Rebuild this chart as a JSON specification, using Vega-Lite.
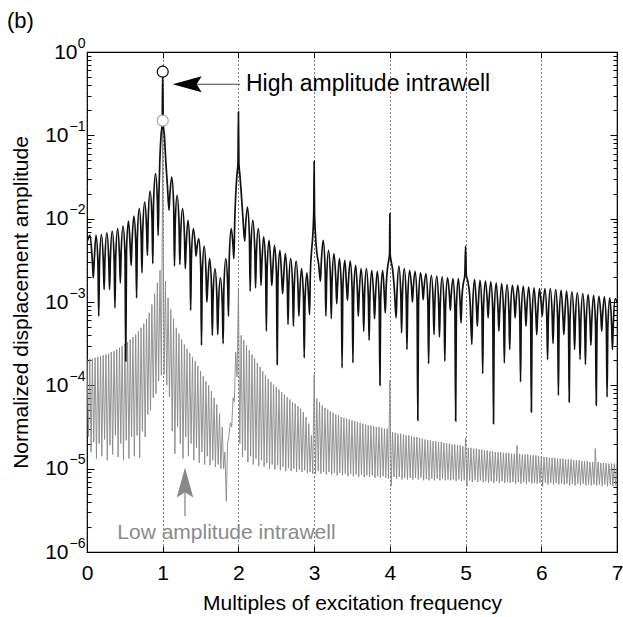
{
"$schema":"https://vega.github.io/schema/vega-lite/v6.json",
"width":530,"height":500,
"autosize":"none",
"padding":{"left":87,"top":52,"right":6,"bottom":65},
"background":"white",
"config":{"view":{"stroke":"black","strokeWidth":1.2},"font":"Liberation Sans","axis":{"labelFont":"Liberation Sans","titleFont":"Liberation Sans","labelColor":"black","titleColor":"black","tickColor":"black","titleFontWeight":"normal","domain":false,"grid":false}},
"title":{"text":"(b)","anchor":"start","frame":"group","dx":-80,"dy":13,"offset":16,"fontSize":22,"fontWeight":"normal","color":"black","font":"Liberation Sans"},
"datasets":{
"black":[
{"x":0,"y":5.25e-3},{"x":0.04,"y":6.31e-3},{"x":0.073,"y":2.82e-3},{"x":0.083,"y":1.95e-3},{"x":0.093,"y":2.82e-3},{"x":0.119,"y":6.31e-3},{"x":0.145,"y":2.82e-3},{"x":0.155,"y":6.76e-4},{"x":0.165,"y":2.88e-3},{"x":0.19,"y":6.46e-3},{"x":0.216,"y":2.88e-3},{"x":0.226,"y":1.41e-3},{"x":0.236,"y":3.02e-3},{"x":0.262,"y":6.76e-3},{"x":0.288,"y":3.02e-3},{"x":0.298,"y":1.41e-3},{"x":0.308,"y":3.16e-3},{"x":0.333,"y":7.08e-3},{"x":0.359,"y":3.16e-3},{"x":0.369,"y":8.51e-4},{"x":0.379,"y":3.39e-3},{"x":0.405,"y":7.59e-3},{"x":0.43,"y":3.39e-3},{"x":0.44,"y":1.70e-3},{"x":0.45,"y":3.63e-3},{"x":0.476,"y":8.13e-3},{"x":0.502,"y":3.63e-3},{"x":0.512,"y":1.95e-4},{"x":0.522,"y":4.17e-3},{"x":0.548,"y":9.33e-3},{"x":0.573,"y":4.17e-3},{"x":0.583,"y":2.75e-3},{"x":0.593,"y":4.79e-3},{"x":0.619,"y":1.07e-2},{"x":0.645,"y":4.79e-3},{"x":0.655,"y":1.12e-3},{"x":0.665,"y":5.89e-3},{"x":0.69,"y":1.32e-2},{"x":0.716,"y":5.89e-3},{"x":0.726,"y":2.24e-3},{"x":0.736,"y":7.08e-3},{"x":0.762,"y":1.58e-2},{"x":0.788,"y":7.08e-3},{"x":0.798,"y":3.63e-3},{"x":0.808,"y":9.55e-3},{"x":0.833,"y":2.14e-2},{"x":0.859,"y":9.55e-3},{"x":0.869,"y":2.88e-3},{"x":0.879,"y":1.55e-2},{"x":0.905,"y":3.47e-2},{"x":0.93,"y":1.55e-2},{"x":0.94,"y":6.31e-3},{"x":0.95,"y":2.0e-2},{"x":0.962,"y":5.01e-2},{"x":0.978,"y":0.1},{"x":0.993,"y":0.138},{"x":1.0,"y":0.58},{"x":1.007,"y":0.138},{"x":1.022,"y":0.1},{"x":1.04,"y":5.01e-2},{"x":1.062,"y":2.51e-2},{"x":1.083,"y":1.26e-2},
{"x":1.093,"y":1.82e-2},{"x":1.119,"y":3.16e-2},{"x":1.145,"y":1.41e-2},{"x":1.155,"y":2.69e-3},{"x":1.165,"y":8.51e-3},{"x":1.19,"y":1.91e-2},{"x":1.216,"y":8.51e-3},{"x":1.226,"y":2.82e-3},{"x":1.236,"y":5.89e-3},{"x":1.262,"y":1.32e-2},{"x":1.288,"y":5.89e-3},{"x":1.298,"y":2.51e-3},{"x":1.308,"y":4.27e-3},{"x":1.333,"y":9.55e-3},{"x":1.359,"y":4.27e-3},{"x":1.369,"y":7.94e-4},{"x":1.379,"y":3.39e-3},{"x":1.405,"y":7.59e-3},{"x":1.43,"y":4.79e-3},{"x":1.44,"y":3.55e-3},{"x":1.45,"y":4.27e-3},{"x":1.476,"y":5.75e-3},{"x":1.502,"y":2.57e-3},{"x":1.512,"y":3.02e-4},{"x":1.522,"y":2.09e-3},{"x":1.548,"y":4.68e-3},{"x":1.573,"y":2.09e-3},{"x":1.583,"y":1.0e-3},{"x":1.593,"y":1.48e-3},{"x":1.619,"y":3.31e-3},{"x":1.645,"y":1.48e-3},{"x":1.655,"y":3.98e-4},{"x":1.665,"y":1.12e-3},{"x":1.69,"y":2.51e-3},{"x":1.716,"y":1.12e-3},{"x":1.726,"y":4.07e-4},{"x":1.736,"y":8.71e-4},{"x":1.762,"y":1.95e-3},{"x":1.788,"y":8.71e-4},{"x":1.798,"y":3.16e-4},{"x":1.808,"y":1.48e-3},{"x":1.833,"y":3.31e-3},{"x":1.859,"y":1.48e-3},{"x":1.869,"y":6.76e-4},{"x":1.879,"y":3.39e-3},{"x":1.905,"y":7.59e-3},{"x":1.93,"y":4.57e-3},{"x":1.94,"y":3.31e-3},{"x":1.952,"y":1.0e-2},{"x":1.965,"y":2.0e-2},{"x":1.98,"y":3.31e-2},{"x":1.994,"y":4.68e-2},{"x":2.0,"y":0.191},{"x":2.006,"y":4.68e-2},{"x":2.02,"y":3.31e-2},{"x":2.038,"y":2.0e-2},{"x":2.06,"y":1.0e-2},{"x":2.083,"y":5.37e-3},
{"x":2.093,"y":7.76e-3},{"x":2.119,"y":1.38e-2},{"x":2.145,"y":6.17e-3},{"x":2.155,"y":1.35e-3},{"x":2.165,"y":4.27e-3},{"x":2.19,"y":9.55e-3},{"x":2.216,"y":4.27e-3},{"x":2.226,"y":1.48e-3},{"x":2.236,"y":3.39e-3},{"x":2.262,"y":7.59e-3},{"x":2.288,"y":3.39e-3},{"x":2.298,"y":1.58e-3},{"x":2.308,"y":2.69e-3},{"x":2.333,"y":6.03e-3},{"x":2.359,"y":2.69e-3},{"x":2.369,"y":4.47e-4},{"x":2.379,"y":2.45e-3},{"x":2.405,"y":5.5e-3},{"x":2.43,"y":2.45e-3},{"x":2.44,"y":1.58e-3},{"x":2.45,"y":2.14e-3},{"x":2.476,"y":4.79e-3},{"x":2.502,"y":2.14e-3},{"x":2.512,"y":1.78e-4},{"x":2.522,"y":1.86e-3},{"x":2.548,"y":4.17e-3},{"x":2.573,"y":1.86e-3},{"x":2.583,"y":1.26e-3},{"x":2.593,"y":1.70e-3},{"x":2.619,"y":3.8e-3},{"x":2.645,"y":1.70e-3},{"x":2.655,"y":5.37e-4},{"x":2.665,"y":1.48e-3},{"x":2.69,"y":3.31e-3},{"x":2.716,"y":1.48e-3},{"x":2.726,"y":5.13e-4},{"x":2.736,"y":1.38e-3},{"x":2.762,"y":3.09e-3},{"x":2.788,"y":1.38e-3},{"x":2.798,"y":6.76e-4},{"x":2.808,"y":1.12e-3},{"x":2.833,"y":2.51e-3},{"x":2.859,"y":1.12e-3},{"x":2.869,"y":2.14e-4},{"x":2.879,"y":1.0e-3},{"x":2.905,"y":2.24e-3},{"x":2.93,"y":1.0e-3},{"x":2.94,"y":7.08e-4},{"x":2.95,"y":2.24e-3},{"x":2.965,"y":3.98e-3},{"x":2.982,"y":6.31e-3},{"x":2.995,"y":1.26e-2},{"x":3.0,"y":4.9e-2},{"x":3.005,"y":1.26e-2},{"x":3.018,"y":6.31e-3},{"x":3.035,"y":3.98e-3},{"x":3.06,"y":2.82e-3},{"x":3.083,"y":1.78e-3},
{"x":3.093,"y":2.82e-3},{"x":3.119,"y":5.5e-3},{"x":3.145,"y":2.45e-3},{"x":3.155,"y":6.76e-4},{"x":3.165,"y":1.86e-3},{"x":3.19,"y":4.17e-3},{"x":3.216,"y":1.86e-3},{"x":3.226,"y":6.31e-4},{"x":3.236,"y":1.70e-3},{"x":3.262,"y":3.8e-3},{"x":3.288,"y":1.70e-3},{"x":3.298,"y":9.55e-4},{"x":3.308,"y":1.48e-3},{"x":3.333,"y":3.31e-3},{"x":3.359,"y":1.48e-3},{"x":3.369,"y":1.62e-4},{"x":3.379,"y":1.41e-3},{"x":3.405,"y":3.16e-3},{"x":3.43,"y":1.41e-3},{"x":3.44,"y":1.05e-3},{"x":3.45,"y":1.58e-3},{"x":3.476,"y":3.09e-3},{"x":3.502,"y":1.38e-3},{"x":3.512,"y":1.86e-4},{"x":3.522,"y":1.23e-3},{"x":3.548,"y":2.75e-3},{"x":3.573,"y":1.23e-3},{"x":3.583,"y":6.76e-4},{"x":3.593,"y":1.12e-3},{"x":3.619,"y":2.51e-3},{"x":3.645,"y":1.12e-3},{"x":3.655,"y":4.47e-4},{"x":3.665,"y":1.12e-3},{"x":3.69,"y":2.51e-3},{"x":3.716,"y":1.12e-3},{"x":3.726,"y":3.47e-4},{"x":3.736,"y":1.07e-3},{"x":3.762,"y":2.4e-3},{"x":3.788,"y":1.07e-3},{"x":3.798,"y":6.31e-4},{"x":3.808,"y":1.05e-3},{"x":3.833,"y":2.34e-3},{"x":3.859,"y":1.05e-3},{"x":3.869,"y":1.0e-4},{"x":3.879,"y":1.07e-3},{"x":3.905,"y":2.4e-3},{"x":3.93,"y":1.07e-3},{"x":3.94,"y":7.41e-4},{"x":3.952,"y":1.58e-3},{"x":3.968,"y":2.51e-3},{"x":3.985,"y":3.16e-3},{"x":3.996,"y":3.8e-3},{"x":4.0,"y":1.15e-2},{"x":4.004,"y":3.8e-3},{"x":4.015,"y":3.16e-3},{"x":4.035,"y":2.51e-3},{"x":4.06,"y":1.41e-3},{"x":4.083,"y":6.46e-4},
{"x":4.093,"y":1.2e-3},{"x":4.119,"y":2.69e-3},{"x":4.145,"y":1.2e-3},{"x":4.155,"y":4.27e-4},{"x":4.165,"y":1.12e-3},{"x":4.19,"y":2.51e-3},{"x":4.216,"y":1.12e-3},{"x":4.226,"y":2.69e-4},{"x":4.236,"y":1.07e-3},{"x":4.262,"y":2.4e-3},{"x":4.288,"y":1.41e-3},{"x":4.298,"y":1.0e-3},{"x":4.308,"y":1.41e-3},{"x":4.333,"y":2.34e-3},{"x":4.359,"y":1.05e-3},{"x":4.369,"y":3.8e-5},{"x":4.379,"y":1.0e-3},{"x":4.405,"y":2.24e-3},{"x":4.43,"y":1.45e-3},{"x":4.44,"y":1.07e-3},{"x":4.45,"y":1.41e-3},{"x":4.476,"y":2.19e-3},{"x":4.502,"y":9.77e-4},{"x":4.512,"y":1.82e-4},{"x":4.522,"y":9.33e-4},{"x":4.548,"y":2.09e-3},{"x":4.573,"y":9.33e-4},{"x":4.583,"y":4.07e-4},{"x":4.593,"y":9.12e-4},{"x":4.619,"y":2.04e-3},{"x":4.645,"y":9.12e-4},{"x":4.655,"y":3.8e-4},{"x":4.665,"y":8.91e-4},{"x":4.69,"y":2.0e-3},{"x":4.716,"y":8.91e-4},{"x":4.726,"y":1.95e-4},{"x":4.736,"y":8.71e-4},{"x":4.762,"y":1.95e-3},{"x":4.788,"y":1.15e-3},{"x":4.798,"y":7.94e-4},{"x":4.808,"y":1.12e-3},{"x":4.833,"y":1.91e-3},{"x":4.859,"y":8.51e-4},{"x":4.869,"y":3.72e-5},{"x":4.879,"y":8.51e-4},{"x":4.905,"y":1.91e-3},{"x":4.93,"y":8.91e-4},{"x":4.94,"y":5.62e-4},{"x":4.952,"y":1.12e-3},{"x":4.97,"y":1.66e-3},{"x":4.99,"y":2.09e-3},{"x":5.0,"y":4.68e-3},{"x":5.01,"y":2.09e-3},{"x":5.03,"y":1.78e-3},{"x":5.06,"y":1.0e-3},{"x":5.083,"y":3.09e-4},
{"x":5.093,"y":8.32e-4},{"x":5.119,"y":1.86e-3},{"x":5.145,"y":8.32e-4},{"x":5.155,"y":5.13e-4},{"x":5.165,"y":8.13e-4},{"x":5.19,"y":1.82e-3},{"x":5.216,"y":8.13e-4},{"x":5.226,"y":1.38e-4},{"x":5.236,"y":7.94e-4},{"x":5.262,"y":1.78e-3},{"x":5.288,"y":9.77e-4},{"x":5.298,"y":6.46e-4},{"x":5.308,"y":9.55e-4},{"x":5.333,"y":1.74e-3},{"x":5.359,"y":7.76e-4},{"x":5.369,"y":3.47e-5},{"x":5.379,"y":7.59e-4},{"x":5.405,"y":1.70e-3},{"x":5.43,"y":7.59e-4},{"x":5.44,"y":4.47e-4},{"x":5.45,"y":7.41e-4},{"x":5.476,"y":1.66e-3},{"x":5.502,"y":7.41e-4},{"x":5.512,"y":1.86e-4},{"x":5.522,"y":7.24e-4},{"x":5.548,"y":1.62e-3},{"x":5.573,"y":7.24e-4},{"x":5.583,"y":2.69e-4},{"x":5.593,"y":7.08e-4},{"x":5.619,"y":1.58e-3},{"x":5.645,"y":9.33e-4},{"x":5.655,"y":6.46e-4},{"x":5.665,"y":9.33e-4},{"x":5.69,"y":1.58e-3},{"x":5.716,"y":7.08e-4},{"x":5.726,"y":1.1e-4},{"x":5.736,"y":6.92e-4},{"x":5.762,"y":1.55e-3},{"x":5.788,"y":7.94e-4},{"x":5.798,"y":5.13e-4},{"x":5.808,"y":7.94e-4},{"x":5.833,"y":1.51e-3},{"x":5.859,"y":6.76e-4},{"x":5.869,"y":4.79e-5},{"x":5.879,"y":6.61e-4},{"x":5.905,"y":1.48e-3},{"x":5.93,"y":6.61e-4},{"x":5.94,"y":4.07e-4},{"x":5.95,"y":6.46e-4},{"x":5.976,"y":1.45e-3},{"x":6.002,"y":8.91e-4},{"x":6.012,"y":6.76e-4},{"x":6.022,"y":8.91e-4},{"x":6.048,"y":1.45e-3},{"x":6.073,"y":6.46e-4},{"x":6.083,"y":2.04e-4},
{"x":6.093,"y":6.46e-4},{"x":6.119,"y":1.45e-3},{"x":6.145,"y":6.46e-4},{"x":6.155,"y":3.16e-4},{"x":6.165,"y":6.31e-4},{"x":6.19,"y":1.41e-3},{"x":6.216,"y":6.31e-4},{"x":6.226,"y":7.59e-5},{"x":6.236,"y":6.17e-4},{"x":6.262,"y":1.38e-3},{"x":6.288,"y":6.17e-4},{"x":6.298,"y":4.07e-4},{"x":6.308,"y":6.03e-4},{"x":6.333,"y":1.35e-3},{"x":6.359,"y":6.03e-4},{"x":6.369,"y":6.31e-5},{"x":6.379,"y":5.89e-4},{"x":6.405,"y":1.32e-3},{"x":6.43,"y":5.89e-4},{"x":6.44,"y":2.69e-4},{"x":6.45,"y":5.75e-4},{"x":6.476,"y":1.29e-3},{"x":6.502,"y":5.75e-4},{"x":6.512,"y":2.04e-4},{"x":6.522,"y":5.62e-4},{"x":6.548,"y":1.26e-3},{"x":6.573,"y":5.62e-4},{"x":6.583,"y":1.78e-4},{"x":6.593,"y":5.5e-4},{"x":6.619,"y":1.23e-3},{"x":6.645,"y":5.5e-4},{"x":6.655,"y":3.02e-4},{"x":6.665,"y":5.37e-4},{"x":6.69,"y":1.2e-3},{"x":6.716,"y":5.37e-4},{"x":6.726,"y":5.75e-5},{"x":6.736,"y":5.25e-4},{"x":6.762,"y":1.17e-3},{"x":6.788,"y":6.61e-4},{"x":6.798,"y":4.47e-4},{"x":6.808,"y":6.46e-4},{"x":6.833,"y":1.15e-3},{"x":6.859,"y":5.13e-4},{"x":6.869,"y":7.24e-5},{"x":6.879,"y":5.01e-4},{"x":6.905,"y":1.12e-3},{"x":6.93,"y":5.01e-4},{"x":6.94,"y":2.69e-4},{"x":6.95,"y":5.01e-4},{"x":6.976,"y":1.1e-3},{"x":7.0,"y":1.0e-3}
],
"gray":[
{"x":0,"y":2.04e-4},{"x":0.018,"y":2.4e-5},{"x":0.036,"y":2.09e-4},{"x":0.054,"y":1.58e-5},{"x":0.071,"y":2.09e-4},{"x":0.089,"y":2.09e-5},{"x":0.107,"y":2.14e-4},{"x":0.125,"y":1.32e-5},{"x":0.143,"y":2.19e-4},{"x":0.161,"y":2.0e-5},{"x":0.179,"y":2.24e-4},{"x":0.196,"y":1.41e-5},{"x":0.214,"y":2.29e-4},{"x":0.232,"y":2.24e-5},{"x":0.25,"y":2.34e-4},{"x":0.268,"y":1.26e-5},{"x":0.286,"y":2.4e-4},{"x":0.304,"y":1.91e-5},{"x":0.321,"y":2.51e-4},{"x":0.339,"y":1.48e-5},{"x":0.357,"y":2.57e-4},{"x":0.375,"y":2.51e-5},{"x":0.393,"y":2.69e-4},{"x":0.411,"y":1.38e-5},{"x":0.429,"y":2.82e-4},{"x":0.446,"y":2.0e-5},{"x":0.464,"y":2.95e-4},{"x":0.482,"y":1.26e-5},{"x":0.5,"y":3.16e-4},{"x":0.518,"y":2.19e-5},{"x":0.536,"y":3.31e-4},{"x":0.554,"y":1.32e-5},{"x":0.571,"y":3.55e-4},{"x":0.589,"y":2.4e-5},{"x":0.607,"y":3.8e-4},{"x":0.625,"y":1.41e-5},{"x":0.643,"y":4.07e-4},{"x":0.661,"y":2.51e-5},{"x":0.679,"y":4.47e-4},{"x":0.696,"y":1.35e-5},{"x":0.714,"y":4.9e-4},{"x":0.732,"y":2.82e-5},{"x":0.75,"y":5.5e-4},{"x":0.768,"y":2.4e-5},{"x":0.786,"y":6.31e-4},{"x":0.804,"y":4.47e-5},{"x":0.821,"y":7.41e-4},{"x":0.839,"y":5.01e-5},{"x":0.857,"y":9.33e-4},{"x":0.875,"y":7.08e-5},{"x":0.893,"y":1.26e-3},{"x":0.911,"y":7.94e-5},{"x":0.929,"y":1.7e-3},{"x":0.946,"y":1.12e-4},{"x":0.964,"y":2.4e-3},{"x":0.982,"y":1.32e-4},{"x":0.995,"y":1.0e-2},{"x":1.0,"y":0.15},{"x":1.005,"y":1.0e-2},{"x":1.018,"y":1.35e-4},
{"x":1.036,"y":1.78e-3},{"x":1.054,"y":1.0e-4},{"x":1.071,"y":1.12e-3},{"x":1.089,"y":7.24e-5},{"x":1.107,"y":8.13e-4},{"x":1.125,"y":2.82e-5},{"x":1.143,"y":6.31e-4},{"x":1.161,"y":1.51e-5},{"x":1.179,"y":4.9e-4},{"x":1.196,"y":3.16e-5},{"x":1.214,"y":4.17e-4},{"x":1.232,"y":2.0e-5},{"x":1.25,"y":3.55e-4},{"x":1.268,"y":1.32e-5},{"x":1.286,"y":3.09e-4},{"x":1.304,"y":2.4e-5},{"x":1.321,"y":2.75e-4},{"x":1.339,"y":1.41e-5},{"x":1.357,"y":2.45e-4},{"x":1.375,"y":2.0e-5},{"x":1.393,"y":2.19e-4},{"x":1.411,"y":1.26e-5},{"x":1.429,"y":1.95e-4},{"x":1.446,"y":1.78e-5},{"x":1.464,"y":1.7e-4},{"x":1.482,"y":1.17e-5},{"x":1.5,"y":1.48e-4},{"x":1.518,"y":1.58e-5},{"x":1.536,"y":1.29e-4},{"x":1.554,"y":1.12e-5},{"x":1.571,"y":1.12e-4},{"x":1.589,"y":1.41e-5},{"x":1.607,"y":1.0e-4},{"x":1.625,"y":1.1e-5},{"x":1.643,"y":8.51e-5},{"x":1.661,"y":1.26e-5},{"x":1.679,"y":7.08e-5},{"x":1.696,"y":1.05e-5},{"x":1.714,"y":5.89e-5},{"x":1.732,"y":1.12e-5},{"x":1.75,"y":4.57e-5},{"x":1.768,"y":1.0e-5},{"x":1.786,"y":3.16e-5},{"x":1.804,"y":1.0e-5},{"x":1.821,"y":1.58e-5},{"x":1.84,"y":4.07e-6},{"x":1.857,"y":2.0e-5},{"x":1.875,"y":2.51e-5},{"x":1.893,"y":3.55e-5},{"x":1.911,"y":3.16e-5},{"x":1.929,"y":7.08e-5},{"x":1.946,"y":6.31e-5},{"x":1.964,"y":2.51e-4},{"x":1.982,"y":1.26e-4},{"x":2.0,"y":1.48e-3},{"x":2.018,"y":2.0e-5},
{"x":2.036,"y":3.98e-4},{"x":2.054,"y":1.38e-5},{"x":2.071,"y":3.47e-4},{"x":2.089,"y":1.66e-5},{"x":2.107,"y":3.02e-4},{"x":2.125,"y":1.2e-5},{"x":2.143,"y":2.63e-4},{"x":2.161,"y":1.41e-5},{"x":2.179,"y":2.34e-4},{"x":2.196,"y":1.12e-5},{"x":2.214,"y":2.09e-4},{"x":2.232,"y":1.32e-5},{"x":2.25,"y":1.86e-4},{"x":2.268,"y":1.07e-5},{"x":2.286,"y":1.66e-4},{"x":2.304,"y":1.26e-5},{"x":2.321,"y":1.48e-4},{"x":2.339,"y":1.05e-5},{"x":2.357,"y":1.32e-4},{"x":2.375,"y":1.17e-5},{"x":2.393,"y":1.2e-4},{"x":2.411,"y":1.0e-5},{"x":2.429,"y":1.1e-4},{"x":2.446,"y":1.12e-5},{"x":2.464,"y":1.02e-4},{"x":2.482,"y":9.77e-6},{"x":2.5,"y":9.55e-5},{"x":2.518,"y":1.1e-5},{"x":2.536,"y":8.91e-5},{"x":2.554,"y":9.55e-6},{"x":2.571,"y":8.32e-5},{"x":2.589,"y":1.05e-5},{"x":2.607,"y":7.76e-5},{"x":2.625,"y":9.33e-6},{"x":2.643,"y":7.24e-5},{"x":2.661,"y":1.02e-5},{"x":2.679,"y":6.76e-5},{"x":2.696,"y":9.33e-6},{"x":2.714,"y":6.31e-5},{"x":2.732,"y":1.0e-5},{"x":2.75,"y":6.03e-5},{"x":2.768,"y":9.12e-6},{"x":2.786,"y":5.62e-5},{"x":2.804,"y":9.77e-6},{"x":2.821,"y":5.25e-5},{"x":2.839,"y":9.12e-6},{"x":2.857,"y":4.79e-5},{"x":2.875,"y":9.55e-6},{"x":2.893,"y":4.17e-5},{"x":2.911,"y":8.91e-6},{"x":2.929,"y":3.47e-5},{"x":2.946,"y":9.12e-6},{"x":2.964,"y":2.51e-5},{"x":2.982,"y":8.71e-6},{"x":3.0,"y":1.35e-4},{"x":3.018,"y":8.71e-6},
{"x":3.036,"y":6.92e-5},{"x":3.054,"y":9.33e-6},{"x":3.071,"y":6.31e-5},{"x":3.089,"y":8.71e-6},{"x":3.107,"y":5.75e-5},{"x":3.125,"y":9.12e-6},{"x":3.143,"y":5.37e-5},{"x":3.161,"y":8.51e-6},{"x":3.179,"y":5.13e-5},{"x":3.196,"y":9.12e-6},{"x":3.214,"y":4.9e-5},{"x":3.232,"y":8.51e-6},{"x":3.25,"y":4.68e-5},{"x":3.268,"y":8.91e-6},{"x":3.286,"y":4.47e-5},{"x":3.304,"y":8.32e-6},{"x":3.321,"y":4.37e-5},{"x":3.339,"y":8.91e-6},{"x":3.357,"y":4.17e-5},{"x":3.375,"y":8.32e-6},{"x":3.393,"y":4.07e-5},{"x":3.411,"y":8.71e-6},{"x":3.429,"y":3.98e-5},{"x":3.446,"y":8.13e-6},{"x":3.464,"y":3.89e-5},{"x":3.482,"y":8.71e-6},{"x":3.5,"y":3.8e-5},{"x":3.518,"y":8.13e-6},{"x":3.536,"y":3.72e-5},{"x":3.554,"y":8.51e-6},{"x":3.571,"y":3.63e-5},{"x":3.589,"y":7.94e-6},{"x":3.607,"y":3.55e-5},{"x":3.625,"y":8.51e-6},{"x":3.643,"y":3.47e-5},{"x":3.661,"y":7.94e-6},{"x":3.679,"y":3.39e-5},{"x":3.696,"y":8.32e-6},{"x":3.714,"y":3.31e-5},{"x":3.732,"y":7.94e-6},{"x":3.75,"y":3.31e-5},{"x":3.768,"y":8.32e-6},{"x":3.786,"y":3.24e-5},{"x":3.804,"y":7.76e-6},{"x":3.821,"y":3.16e-5},{"x":3.839,"y":8.13e-6},{"x":3.857,"y":3.16e-5},{"x":3.875,"y":7.76e-6},{"x":3.893,"y":3.09e-5},{"x":3.911,"y":8.13e-6},{"x":3.929,"y":3.02e-5},{"x":3.946,"y":7.76e-6},{"x":3.964,"y":3.02e-5},{"x":3.982,"y":7.59e-6},{"x":4.0,"y":1.15e-4},{"x":4.018,"y":6.17e-6},
{"x":4.036,"y":2.75e-5},{"x":4.054,"y":7.94e-6},{"x":4.071,"y":2.69e-5},{"x":4.089,"y":7.59e-6},{"x":4.107,"y":2.63e-5},{"x":4.125,"y":7.94e-6},{"x":4.143,"y":2.63e-5},{"x":4.161,"y":7.41e-6},{"x":4.179,"y":2.57e-5},{"x":4.196,"y":7.76e-6},{"x":4.214,"y":2.51e-5},{"x":4.232,"y":7.41e-6},{"x":4.25,"y":2.51e-5},{"x":4.268,"y":7.76e-6},{"x":4.286,"y":2.45e-5},{"x":4.304,"y":7.41e-6},{"x":4.321,"y":2.4e-5},{"x":4.339,"y":7.76e-6},{"x":4.357,"y":2.4e-5},{"x":4.375,"y":7.41e-6},{"x":4.393,"y":2.34e-5},{"x":4.411,"y":7.76e-6},{"x":4.429,"y":2.29e-5},{"x":4.446,"y":7.24e-6},{"x":4.464,"y":2.24e-5},{"x":4.482,"y":7.59e-6},{"x":4.5,"y":2.19e-5},{"x":4.518,"y":7.24e-6},{"x":4.536,"y":2.19e-5},{"x":4.554,"y":7.59e-6},{"x":4.571,"y":2.14e-5},{"x":4.589,"y":7.24e-6},{"x":4.607,"y":2.14e-5},{"x":4.625,"y":7.59e-6},{"x":4.643,"y":2.09e-5},{"x":4.661,"y":7.24e-6},{"x":4.679,"y":2.09e-5},{"x":4.696,"y":7.59e-6},{"x":4.714,"y":2.04e-5},{"x":4.732,"y":7.24e-6},{"x":4.75,"y":2.0e-5},{"x":4.768,"y":7.41e-6},{"x":4.786,"y":2.0e-5},{"x":4.804,"y":7.24e-6},{"x":4.821,"y":1.95e-5},{"x":4.839,"y":7.41e-6},{"x":4.857,"y":1.95e-5},{"x":4.875,"y":7.08e-6},{"x":4.893,"y":1.91e-5},{"x":4.911,"y":7.41e-6},{"x":4.929,"y":1.91e-5},{"x":4.946,"y":7.08e-6},{"x":4.964,"y":1.86e-5},{"x":4.982,"y":7.24e-6},{"x":5.0,"y":2.34e-5},{"x":5.018,"y":6.17e-6},
{"x":5.036,"y":1.78e-5},{"x":5.054,"y":7.24e-6},{"x":5.071,"y":1.78e-5},{"x":5.089,"y":6.92e-6},{"x":5.107,"y":1.74e-5},{"x":5.125,"y":7.24e-6},{"x":5.143,"y":1.74e-5},{"x":5.161,"y":6.92e-6},{"x":5.179,"y":1.7e-5},{"x":5.196,"y":7.24e-6},{"x":5.214,"y":1.7e-5},{"x":5.232,"y":6.92e-6},{"x":5.25,"y":1.66e-5},{"x":5.268,"y":7.08e-6},{"x":5.286,"y":1.66e-5},{"x":5.304,"y":6.76e-6},{"x":5.321,"y":1.62e-5},{"x":5.339,"y":7.08e-6},{"x":5.357,"y":1.62e-5},{"x":5.375,"y":6.76e-6},{"x":5.393,"y":1.58e-5},{"x":5.411,"y":7.08e-6},{"x":5.429,"y":1.58e-5},{"x":5.446,"y":6.76e-6},{"x":5.464,"y":1.58e-5},{"x":5.482,"y":7.08e-6},{"x":5.5,"y":1.55e-5},{"x":5.518,"y":6.76e-6},{"x":5.536,"y":1.55e-5},{"x":5.554,"y":6.92e-6},{"x":5.571,"y":1.55e-5},{"x":5.589,"y":6.76e-6},{"x":5.607,"y":1.51e-5},{"x":5.625,"y":6.92e-6},{"x":5.643,"y":1.51e-5},{"x":5.661,"y":6.61e-6},{"x":5.679,"y":1.91e-5},{"x":5.696,"y":6.92e-6},{"x":5.714,"y":1.51e-5},{"x":5.732,"y":6.61e-6},{"x":5.75,"y":1.48e-5},{"x":5.768,"y":6.92e-6},{"x":5.786,"y":1.48e-5},{"x":5.804,"y":6.61e-6},{"x":5.821,"y":1.48e-5},{"x":5.839,"y":6.92e-6},{"x":5.857,"y":1.45e-5},{"x":5.875,"y":6.61e-6},{"x":5.893,"y":1.45e-5},{"x":5.911,"y":6.76e-6},{"x":5.929,"y":1.45e-5},{"x":5.946,"y":6.61e-6},{"x":5.964,"y":1.41e-5},{"x":5.982,"y":6.76e-6},{"x":6.0,"y":1.41e-5},{"x":6.018,"y":6.17e-6},
{"x":6.036,"y":1.38e-5},{"x":6.054,"y":6.76e-6},{"x":6.071,"y":1.38e-5},{"x":6.089,"y":6.46e-6},{"x":6.107,"y":1.35e-5},{"x":6.125,"y":6.76e-6},{"x":6.143,"y":1.35e-5},{"x":6.161,"y":6.46e-6},{"x":6.179,"y":1.35e-5},{"x":6.196,"y":6.76e-6},{"x":6.214,"y":1.32e-5},{"x":6.232,"y":6.46e-6},{"x":6.25,"y":1.32e-5},{"x":6.268,"y":6.61e-6},{"x":6.286,"y":1.32e-5},{"x":6.304,"y":6.46e-6},{"x":6.321,"y":1.29e-5},{"x":6.339,"y":6.61e-6},{"x":6.357,"y":1.29e-5},{"x":6.375,"y":6.31e-6},{"x":6.393,"y":1.29e-5},{"x":6.411,"y":6.61e-6},{"x":6.429,"y":1.26e-5},{"x":6.446,"y":6.31e-6},{"x":6.464,"y":1.26e-5},{"x":6.482,"y":6.61e-6},{"x":6.5,"y":1.26e-5},{"x":6.518,"y":6.31e-6},{"x":6.536,"y":1.23e-5},{"x":6.554,"y":6.61e-6},{"x":6.571,"y":1.23e-5},{"x":6.589,"y":6.31e-6},{"x":6.607,"y":1.23e-5},{"x":6.625,"y":6.46e-6},{"x":6.643,"y":1.2e-5},{"x":6.661,"y":6.31e-6},{"x":6.679,"y":1.2e-5},{"x":6.696,"y":6.46e-6},{"x":6.714,"y":1.74e-5},{"x":6.732,"y":6.31e-6},{"x":6.75,"y":1.2e-5},{"x":6.768,"y":6.46e-6},{"x":6.786,"y":1.17e-5},{"x":6.804,"y":6.17e-6},{"x":6.821,"y":1.17e-5},{"x":6.839,"y":6.46e-6},{"x":6.857,"y":1.17e-5},{"x":6.875,"y":6.17e-6},{"x":6.893,"y":1.15e-5},{"x":6.911,"y":6.46e-6},{"x":6.929,"y":1.15e-5},{"x":6.946,"y":6.17e-6},{"x":6.964,"y":1.15e-5},{"x":6.982,"y":6.31e-6},{"x":7.0,"y":1.12e-5}
]
},
"layer":[
{"data":{"name":"gray"},
 "mark":{"type":"line","color":"#888888","strokeWidth":0.9,"clip":true},
 "encoding":{
  "x":{"field":"x","type":"quantitative","scale":{"domain":[0,7],"nice":false,"zero":false},
   "axis":{"orient":"bottom","values":[0,1,2,3,4,5,6,7],"format":"d","tickSize":-6,"labelPadding":16,"labelFontSize":21,"labelFlush":false,"labelOverlap":false,"grid":true,"gridDash":[1,3],"gridColor":"black","gridOpacity":1,"gridWidth":1,"title":"Multiples of excitation frequency","titleFontSize":21,"titlePadding":9}},
  "y":{"field":"y","type":"quantitative","scale":{"type":"log","domain":[1e-6,1],"nice":false},
   "axis":{"orient":"left","values":[1e-6,1e-5,1e-4,1e-3,1e-2,1e-1],"labelExpr":"'10'","ticks":false,"tickSize":0,"labelPadding":19,"labelFontSize":21,"title":"Normalized displacement amplitude","titleFontSize":21,"titlePadding":13}}
 }},
{"data":{"name":"black"},
 "mark":{"type":"line","color":"#111111","strokeWidth":1.7,"interpolate":"monotone","clip":true},
 "encoding":{
  "x":{"field":"x","type":"quantitative","scale":{"domain":[0,7],"nice":false,"zero":false},
   "axis":{"orient":"top","values":[0,1,2,3,4,5,6,7],"labels":false,"tickSize":-6,"title":null}},
  "y":{"field":"y","type":"quantitative","scale":{"type":"log","domain":[1e-6,1],"nice":false},
   "axis":{"orient":"right","values":[1e-6,1e-5,1e-4,1e-3,1e-2,1e-1,1],"labels":false,"tickSize":-7,"title":null}}
 }},
{"data":{"values":[{}]},
 "mark":{"type":"point","shape":"circle","size":121,"filled":true,"fill":"white","stroke":"black","strokeWidth":1.2,"opacity":1},
 "encoding":{
  "x":{"datum":1,"type":"quantitative","axis":null},
  "y":{"datum":0.58,"type":"quantitative","axis":{"orient":"left","values":[2e-6,3e-6,4e-6,5e-6,6e-6,7e-6,8e-6,9e-6,2e-5,3e-5,4e-5,5e-5,6e-5,7e-5,8e-5,9e-5,2e-4,3e-4,4e-4,5e-4,6e-4,7e-4,8e-4,9e-4,2e-3,3e-3,4e-3,5e-3,6e-3,7e-3,8e-3,9e-3,2e-2,3e-2,4e-2,5e-2,6e-2,7e-2,8e-2,9e-2,0.2,0.3,0.4,0.5,0.6,0.7,0.8,0.9],"labels":false,"tickSize":-4,"title":null}}
 }},
{"data":{"values":[{}]},
 "mark":{"type":"point","shape":"circle","size":121,"filled":true,"fill":"white","stroke":"#aaaaaa","strokeWidth":1.2,"opacity":1},
 "encoding":{
  "x":{"datum":1,"type":"quantitative","axis":null},
  "y":{"datum":0.15,"type":"quantitative","axis":{"orient":"right","values":[2e-6,3e-6,4e-6,5e-6,6e-6,7e-6,8e-6,9e-6,2e-5,3e-5,4e-5,5e-5,6e-5,7e-5,8e-5,9e-5,2e-4,3e-4,4e-4,5e-4,6e-4,7e-4,8e-4,9e-4,2e-3,3e-3,4e-3,5e-3,6e-3,7e-3,8e-3,9e-3,2e-2,3e-2,4e-2,5e-2,6e-2,7e-2,8e-2,9e-2,0.2,0.3,0.4,0.5,0.6,0.7,0.8,0.9],"labels":false,"tickSize":-4,"title":null}}
 }},
{"data":{"values":[{}]},
 "mark":{"type":"rule","color":"#444444","strokeWidth":1},
 "encoding":{
  "x":{"datum":1.44,"type":"quantitative","axis":null},
  "x2":{"datum":2.02},
  "y":{"datum":0.41,"type":"quantitative","axis":{"orient":"left","values":[1e-6,1e-5,1e-4,1e-3,1e-2,1e-1,1],"labels":false,"tickSize":-7,"title":null}}
 }},
{"data":{"values":[{}]},
 "mark":{"type":"point","shape":"M-1,0L1,-0.55L0.65,0L1,0.55Z","size":841,"filled":true,"color":"black","opacity":1},
 "encoding":{
  "x":{"datum":1.323,"type":"quantitative","axis":null},
  "y":{"datum":0.41,"type":"quantitative","axis":{"orient":"left","values":[1e-6,1e-5,1e-4,1e-3,1e-2,1e-1,1],"labelExpr":"datum.value >= 0.5 ? '0' : '−' + round(-log(datum.value)/LN10)","ticks":false,"tickSize":0,"labelPadding":2,"labelFontSize":14,"labelOffset":-9,"title":null}}
 }},
{"data":{"values":[{}]},
 "mark":{"type":"text","align":"left","baseline":"middle","fontSize":23,"font":"Liberation Sans","color":"black"},
 "encoding":{
  "x":{"datum":2.1,"type":"quantitative","axis":null},
  "y":{"datum":0.41,"type":"quantitative","axis":{"orient":"left","values":[1],"labelExpr":"'10'","ticks":false,"tickSize":0,"labelPadding":10,"labelFontSize":21,"title":null}},
  "text":{"value":"High amplitude intrawell"}
 }},
{"data":{"values":[{}]},
 "mark":{"type":"rule","color":"#9a9a9a","strokeWidth":1.5},
 "encoding":{
  "x":{"datum":1.294,"type":"quantitative","axis":null},
  "y":{"datum":5.3e-6,"type":"quantitative","axis":null},
  "y2":{"datum":2.7e-6}
 }},
{"data":{"values":[{}]},
 "mark":{"type":"point","shape":"M0,-1L0.55,1L0,0.65L-0.55,1Z","size":900,"filled":true,"color":"#888888","opacity":1},
 "encoding":{
  "x":{"datum":1.294,"type":"quantitative","axis":null},
  "y":{"datum":6.8e-6,"type":"quantitative","axis":null}
 }},
{"data":{"values":[{}]},
 "mark":{"type":"text","align":"left","baseline":"middle","fontSize":21,"font":"Liberation Sans","color":"#8a8a8a"},
 "encoding":{
  "x":{"datum":0.4,"type":"quantitative","axis":null},
  "y":{"datum":1.7e-6,"type":"quantitative","axis":null},
  "text":{"value":"Low amplitude intrawell"}
 }}
],
"resolve":{"axis":{"x":"independent","y":"independent"}}
}
